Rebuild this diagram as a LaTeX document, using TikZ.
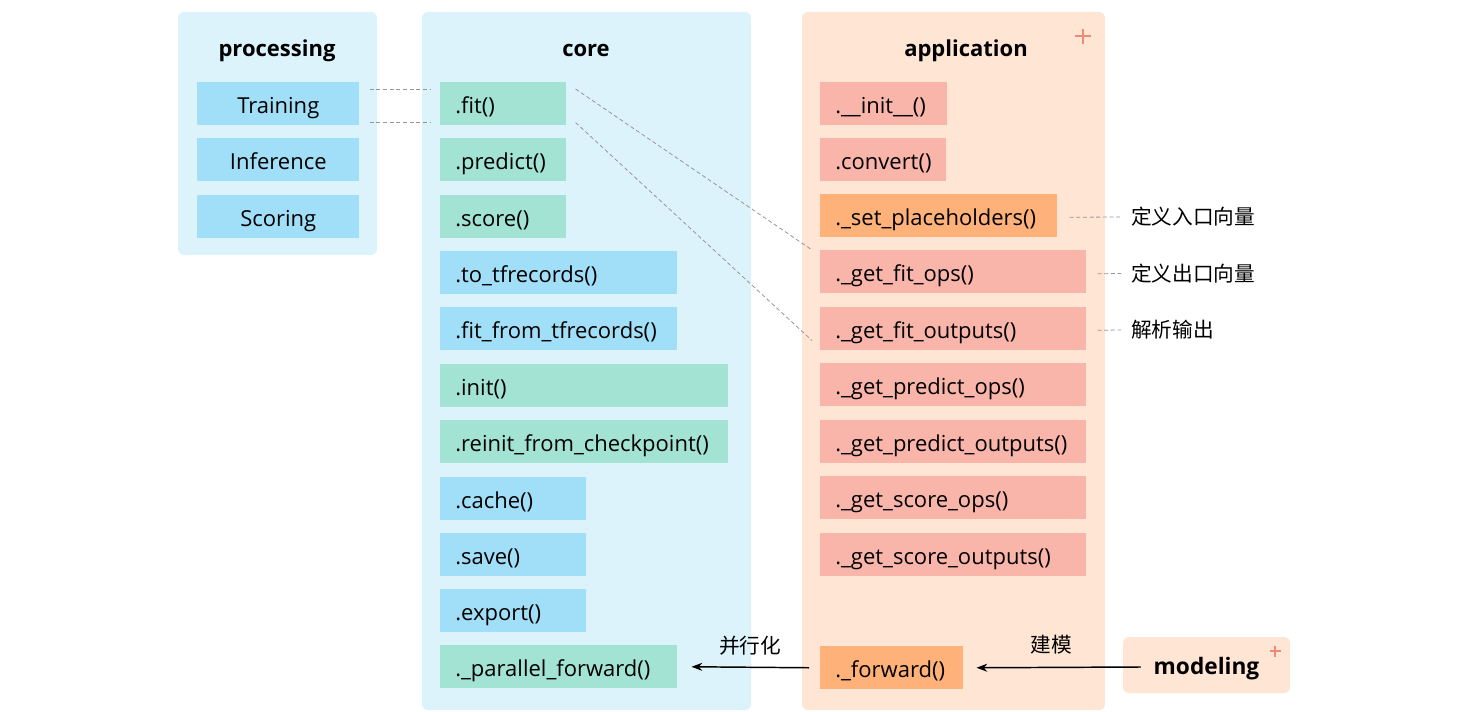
\documentclass[tikz,border=0pt]{standalone}
\usepackage{fontspec}
\setmainfont{Open Sans}
\newfontfamily\cjk{Noto Sans CJK SC}
\usetikzlibrary{arrows.meta,calc}

\begin{document}
\begin{tikzpicture}[x=0.75pt,y=0.75pt,yscale=-1,xscale=1,
  panelblue/.style={fill={rgb, 255:red, 221; green, 243; blue, 252 }},
  panelorange/.style={fill={rgb, 255:red, 255; green, 229; blue, 212 }},
  fn/.style={anchor=north west, inner xsep=11.25pt, inner ysep=0pt, minimum height=32.25pt, text height=16pt, text depth=2pt, align=left, font=\fontsize{16.5}{20}\selectfont, text width=#1},
  bluefn/.style={fn=#1, fill={rgb, 255:red, 160; green, 223; blue, 247 }},
  greenfn/.style={fn=#1, fill={rgb, 255:red, 162; green, 227; blue, 211 }},
  pinkfn/.style={fn=#1, fill={rgb, 255:red, 249; green, 181; blue, 169 }},
  orangefn/.style={fn=#1, fill={rgb, 255:red, 255; green, 177; blue, 122 }},
  title/.style={inner sep=0pt, text height=16pt, text depth=2pt, font=\fontsize{16.5}{20}\selectfont\bfseries},
  link/.style={draw={rgb, 255:red, 150; green, 150; blue, 150 }, dash pattern=on 3pt off 2pt, line width=0.6pt},
  note/.style={inner sep=0pt, font=\cjk\fontsize{15.5}{18}\selectfont},
  plus/.style={draw={rgb, 255:red, 242; green, 137; blue, 120 }, line width=1.5pt},
  flow/.style={line width=1.1pt, -{Stealth[length=8pt,width=6pt,inset=2.5pt]}}
]
\useasboundingbox (0,0) rectangle (1466,712);

%Shape: Rounded Rect [processing]
\fill [panelblue, rounded corners=4.5pt] (178,12) rectangle (377,255);
%Shape: Rounded Rect [core]
\fill [panelblue, rounded corners=4.5pt] (422,12) rectangle (751,710);
%Shape: Rounded Rect [application]
\fill [panelorange, rounded corners=4.5pt] (802,12) rectangle (1105,710);

% Text Node
\node [title] at (277,47) {processing};
% Text Node
\node [title] at (586,47) {core};
% Text Node
\node [title] at (966,47) {application};
%Shape: Plus
\draw [plus] (1075,36.5) -- (1090.5,36.5) (1083,29) -- (1083,44);

%processing
\node [bluefn=99pt, align=center] (pTraining) at (197,82) {Training};
\node [bluefn=99pt, align=center] (pInference) at (197,138) {Inference};
\node [bluefn=99pt, align=center] (pScoring) at (197,195) {Scoring};

%core
\node [greenfn=72pt] (cFit) at (440,82) {.fit()};
\node [greenfn=72pt] (cPredict) at (440,138) {.predict()};
\node [greenfn=72pt] (cScore) at (440,195) {.score()};
\node [bluefn=155.25pt] (cToTf) at (440,251) {.to\_tfrecords()};
\node [bluefn=155.25pt] (cFitTf) at (440,307) {.fit\_from\_tfrecords()};
\node [greenfn=193.5pt] (cInit) at (440,364) {.init()};
\node [greenfn=193.5pt] (cReinit) at (440,420) {.reinit\_from\_checkpoint()};
\node [bluefn=87pt] (cCache) at (440,477) {.cache()};
\node [bluefn=87pt] (cSave) at (440,533) {.save()};
\node [bluefn=87pt] (cExport) at (440,589) {.export()};
\node [greenfn=155.25pt] (cParallel) at (440,645) {.\_parallel\_forward()};

%application
\node [pinkfn=72.75pt] (aInit) at (820,82) {.\_\_init\_\_()};
\node [pinkfn=72pt] (aConvert) at (820,138) {.convert()};
\node [orangefn=155.25pt] (aSetPh) at (820,194) {.\_set\_placeholders()};
\node [pinkfn=177pt] (aFitOps) at (820,250) {.\_get\_fit\_ops()};
\node [pinkfn=177pt] (aFitOut) at (820,307) {.\_get\_fit\_outputs()};
\node [pinkfn=177pt] (aPredOps) at (820,363) {.\_get\_predict\_ops()};
\node [pinkfn=177pt] (aPredOut) at (820,420) {.\_get\_predict\_outputs()};
\node [pinkfn=177pt] (aScoreOps) at (820,476) {.\_get\_score\_ops()};
\node [pinkfn=177pt] (aScoreOut) at (820,533) {.\_get\_score\_outputs()};
\node [orangefn=84.75pt] (aForward) at (820,646) {.\_forward()};

%modeling
\node [panelorange, rounded corners=4.5pt, minimum width=125.25pt, minimum height=42pt, inner sep=0pt, text height=16pt, text depth=2pt, font=\fontsize{17}{20}\selectfont\bfseries] (modeling) at (1206.5,665) {modeling};
%Shape: Plus
\draw [plus, line width=1.2pt] (1269.5,651) -- (1280.5,651) (1275,645.5) -- (1275,656.5);

% Text Node
\node [note, anchor=west] (nSetPh) at (1131,217) {定义入口向量};
\node [note, anchor=west] (nFitOps) at (1131,273.5) {定义出口向量};
\node [note, anchor=west] (nFitOut) at (1131,330) {解析输出};

%Straight Lines
\draw [link] ($(pTraining.north east)+(10,7)$) -- ($(cFit.north west)+(-9,7)$);
\draw [link] ($(pTraining.south east)+(10,-3)$) -- ($(cFit.south west)+(-9,-3)$);
\draw [link] ($(cFit.north east)+(9,7)$) -- ($(aFitOps.north west)+(-8,0)$);
\draw [link] ($(cFit.south east)+(9,-3)$) -- ($(aFitOut.south west)+(-8,-10)$);
\draw [link] ($(aSetPh.east)+(12,1.5)$) -- ($(nSetPh.west)+(-10,0)$);
\draw [link] ($(aFitOps.east)+(11,2)$) -- ($(nFitOps.west)+(-10,0)$);
\draw [link] ($(aFitOut.east)+(11,1.5)$) -- ($(nFitOut.west)+(-10,0)$);

%Arrows
\draw [flow] ($(modeling.west)+(18,2)$) -- ($(aForward.east)+(13,0)$);
\draw [flow] ($(aForward.west)+(-11,0)$) -- ($(cParallel.east)+(14,0)$);
% Text Node
\node [note] (lModel) at (1051,645) {建模};
\node [note] (lPar) at (750,645.5) {并行化};

\end{tikzpicture}
\end{document}
